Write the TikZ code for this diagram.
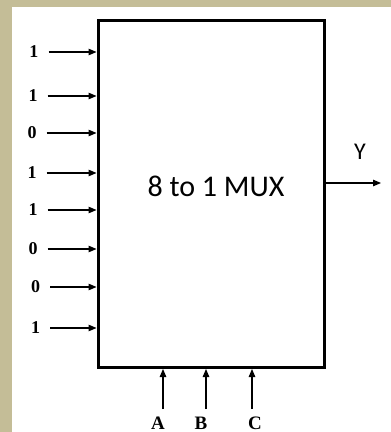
\documentclass[tikz,border=0pt]{standalone}
\usepackage{fontspec}
\setmainfont{Liberation Serif}
\newfontfamily\calibri{Carlito}
\usetikzlibrary{arrows.meta,positioning}
\definecolor{beige}{RGB}{196,189,151}

\begin{document}
\begin{tikzpicture}[
  x=1pt, y=-1pt,
  muxbox/.style={draw, line width=3.5pt, minimum width=226pt, minimum height=347pt},
  bit/.style={font=\fontsize{18}{18}\selectfont\bfseries, inner sep=0pt},
  sel/.style={font=\fontsize{19}{19}\selectfont\bfseries, inner sep=0pt},
  arr/.style={-{Triangle[length=8pt, width=6.5pt]}, line width=1.1pt}
]
\fill[beige] (0,0) rectangle (391,432);
\fill[white] (12,7) rectangle (391,432);
\node[muxbox] (mux) at (211.25,193.75) {};
\node[font=\calibri\fontsize{30}{30}\selectfont] (name) at (216,186) {8 to 1 MUX};
\foreach \v/\x/\y [count=\i] in {1/34/52, 1/33/96, 0/32/133, 1/32/173, 1/33/210, 0/33/249, 0/35.5/287, 1/35.5/328} {
  \node[bit] (in\i) at (\x,\y) {\v};
  \draw[arr, shorten <=10pt] (in\i.east) -- (in\i -| mux.west);
}
\coordinate (yend) at (381,183);
\node[font=\calibri\fontsize{24}{24}\selectfont] (ylab) at (360,152) {Y};
\draw[arr] (mux.east |- yend) -- (yend);
\foreach \s/\lx/\ax in {A/158/163, B/201/206, C/255/252} {
  \node[sel] (sel\s) at (\lx,423) {\s};
  \coordinate (s\s) at (\ax,409);
  \draw[arr] (s\s) -- (s\s |- mux.south);
}
\end{tikzpicture}
\end{document}
